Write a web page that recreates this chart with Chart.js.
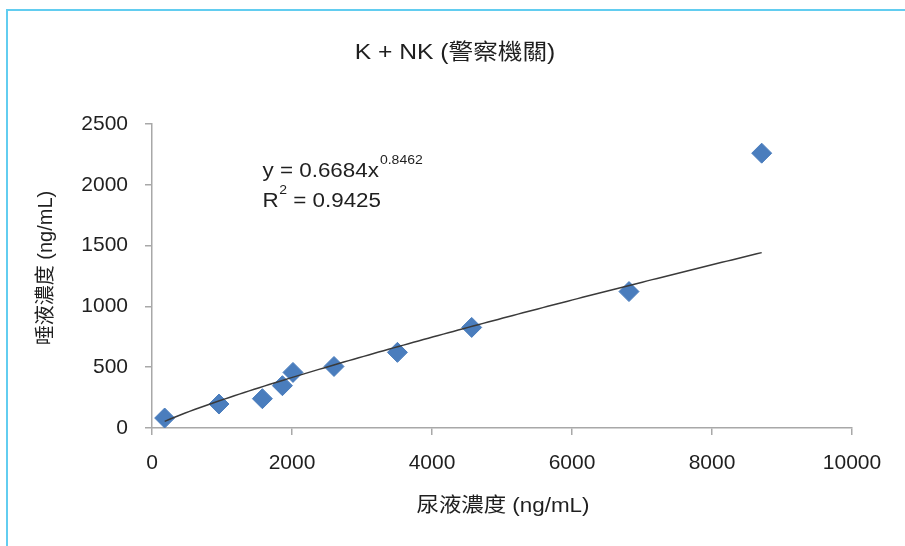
<!DOCTYPE html>
<html>
<head>
<meta charset="utf-8">
<style>
  html, body { margin: 0; padding: 0; background: #ffffff; }
  #wrap { width: 905px; height: 546px; position: relative; }
</style>
<script src="https://cdn.jsdelivr.net/npm/chart.js@4/dist/chart.umd.min.js"></script>
</head>
<body>
<div id="wrap"><canvas id="chart" width="905" height="546"></canvas></div>
<script>
// Urine vs. saliva concentration (ng/mL), K + NK group, police agencies
const urineConc = [181, 957, 1577, 1863, 2014, 2600, 3506, 4567, 6814, 8710];
const salivaConc = [82, 197, 241, 348, 457, 506, 622, 827, 1122, 2260];

// Power trend line y = a * x^b
const trendA = 0.6684;
const trendB = 0.8462;
const rSquared = 0.9425;

const xTicks = [0, 2000, 4000, 6000, 8000, 10000];
const yTicks = [0, 500, 1000, 1500, 2000, 2500];

const chartTitle = 'K + NK (警察機關)';
const xTitle = '尿液濃度 (ng/mL)';
const yTitle = '唾液濃度 (ng/mL)';

const FONT = '"Liberation Sans", Arial, "Noto Sans CJK TC", sans-serif';
const TEXT = '#1f1f1f';
const STRETCH = 1.12;

const points = urineConc.map((x, i) => ({ x, y: salivaConc[i] }));

// Sample the fitted power curve across the observed range
const xMin = Math.min(...urineConc), xMax = Math.max(...urineConc);
const trendPts = [];
for (let i = 0; i <= 120; i++) {
  const x = xMin + (xMax - xMin) * i / 120;
  trendPts.push({ x, y: trendA * Math.pow(x, trendB) });
}

function stretchText(ctx, text, x, y, font, align, sx) {
  ctx.save();
  ctx.font = font;
  ctx.fillStyle = TEXT;
  ctx.textBaseline = 'middle';
  ctx.textAlign = 'left';
  const w = ctx.measureText(text).width * sx;
  let left = x;
  if (align === 'center') left = x - w / 2;
  else if (align === 'right') left = x - w;
  ctx.translate(left, y);
  ctx.scale(sx, 1);
  ctx.fillText(text, 0, 0);
  ctx.restore();
  return w;
}

const decorations = {
  id: 'decorations',
  afterDraw(chart) {
    const ctx = chart.ctx;
    const area = chart.chartArea;

    // outer frame (top and left edges)
    ctx.save();
    ctx.strokeStyle = '#62cdf0';
    ctx.lineWidth = 2;
    ctx.beginPath();
    ctx.moveTo(7, 546);
    ctx.lineTo(7, 10);
    ctx.lineTo(905, 10);
    ctx.stroke();
    ctx.restore();

    // chart title
    stretchText(ctx, chartTitle, 455, 53, '22px ' + FONT, 'center', STRETCH);

    // x axis title
    stretchText(ctx, xTitle, (area.left + area.right) / 2 + 1, 506, '20px ' + FONT, 'center', STRETCH);

    // y axis title (rotated)
    ctx.save();
    ctx.translate(46, 268);
    ctx.rotate(-Math.PI / 2);
    ctx.font = '20px ' + FONT;
    ctx.fillStyle = TEXT;
    ctx.textAlign = 'center';
    ctx.textBaseline = 'middle';
    ctx.fillText(yTitle, 0, 0);
    ctx.restore();

    // trend equation
    const ex = 262.5;
    let w = stretchText(ctx, 'y = 0.6684x', ex, 171, '20px ' + FONT, 'left', STRETCH);
    stretchText(ctx, trendB.toString(), ex + w + 1, 161, '12.5px ' + FONT, 'left', STRETCH);
    w = stretchText(ctx, 'R', ex, 201, '20px ' + FONT, 'left', STRETCH);
    const w2 = stretchText(ctx, '2', ex + w + 0.5, 191, '12.5px ' + FONT, 'left', STRETCH);
    stretchText(ctx, ' = ' + rSquared.toFixed(4), ex + w + w2 + 0.5, 201, '20px ' + FONT, 'left', STRETCH);
  }
};

new Chart(document.getElementById('chart'), {
  type: 'scatter',
  data: {
    datasets: [
      {
        type: 'line',
        data: trendPts,
        borderColor: '#3a3a3a',
        borderWidth: 1.5,
        pointRadius: 0,
        tension: 0,
        fill: false,
        order: 0
      },
      {
        data: points,
        pointStyle: 'rectRot',
        pointRadius: 10,
        pointHoverRadius: 10,
        backgroundColor: '#4a7dbd',
        borderColor: '#4a7dbd',
        borderWidth: 1,
        order: 1
      }
    ]
  },
  options: {
    responsive: false,
    animation: false,
    events: [],
    layout: { padding: { top: 124, right: 53, bottom: 0, left: 0 } },
    plugins: {
      legend: { display: false },
      title: { display: false },
      tooltip: { enabled: false }
    },
    scales: {
      x: {
        type: 'linear',
        min: 0,
        max: 10000,
        afterFit(scale) { scale.height = 118; },
        afterBuildTicks(scale) { scale.ticks = xTicks.map(v => ({ value: v })); },
        grid: { drawOnChartArea: false, drawTicks: true, tickLength: 7, color: '#a8a8a8', lineWidth: 1.5 },
        border: { display: true, color: '#a8a8a8', width: 1.5 },
        ticks: { color: TEXT, padding: 16, font: { size: 21, family: FONT }, callback: v => String(v) }
      },
      y: {
        type: 'linear',
        min: 0,
        max: 2500,
        afterFit(scale) { scale.width = 152; },
        afterBuildTicks(scale) { scale.ticks = yTicks.map(v => ({ value: v })); },
        grid: { drawOnChartArea: false, drawTicks: true, tickLength: 7, color: '#a8a8a8', lineWidth: 1.5 },
        border: { display: true, color: '#a8a8a8', width: 1.5 },
        ticks: { color: TEXT, padding: 17, font: { size: 21, family: FONT }, callback: v => String(v) }
      }
    }
  },
  plugins: [decorations]
});
</script>
</body>
</html>
